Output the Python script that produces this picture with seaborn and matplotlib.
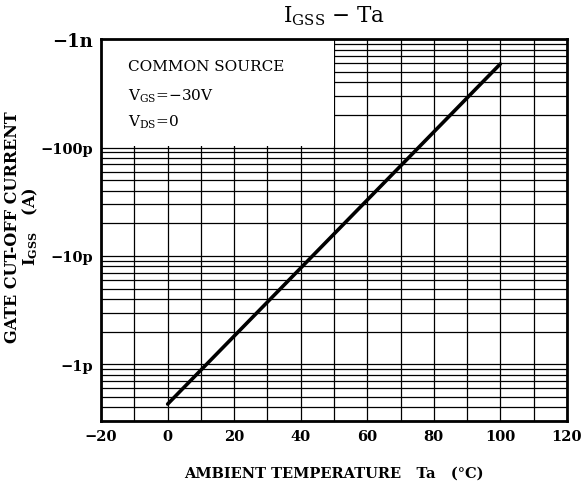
import matplotlib
matplotlib.use("Agg")
import matplotlib.pyplot as plt
from matplotlib.patches import Rectangle
from matplotlib.ticker import FixedLocator, LogLocator, MultipleLocator, NullFormatter
import pandas as pd
import seaborn as sns

# I_GSS magnitude (A) vs ambient temperature (deg C); straight line on log scale
temps = [0, 100]
igss = [0.43e-12, 590e-12]

y_ticks = [1e-12, 1e-11, 1e-10, 1e-9]
y_labels = ["\u22121p", "\u221210p", "\u2212100p", "\u22121n"]
x_ticks = [-20, 0, 20, 40, 60, 80, 100, 120]

MINUS = "\u2212"

sns.set_style("white")
plt.rcParams["font.family"] = ["DejaVu Serif", "DejaVu Sans"]
plt.rcParams["mathtext.fontset"] = "dejavuserif"
for key in ["text.color", "axes.labelcolor", "xtick.color", "ytick.color"]:
    plt.rcParams[key] = "black"

df = pd.DataFrame({"Ta": temps, "IGSS": igss})

fig = plt.figure(figsize=(5.88, 4.89), dpi=100)
ax = fig.add_axes([0.172, 0.137, 0.792, 0.781])

sns.lineplot(data=df, x="Ta", y="IGSS", color="black", linewidth=2.6, ax=ax, zorder=3)

ax.set_yscale("log")
ax.set_xlim(-20, 120)
ax.set_ylim(0.3e-12, 1e-9)

ax.xaxis.set_major_locator(FixedLocator(x_ticks))
ax.xaxis.set_minor_locator(MultipleLocator(10))
ax.yaxis.set_major_locator(FixedLocator(y_ticks))
ax.yaxis.set_minor_locator(LogLocator(base=10, subs=range(2, 10), numticks=20))
ax.yaxis.set_minor_formatter(NullFormatter())
ax.set_yticklabels(y_labels)

ax.set_axisbelow(True)
ax.grid(which="both", color="black", linewidth=0.9)

# white box for the conditions text, covering the grid
ax.add_patch(Rectangle((-20, 1.04e-10), 70, 1e-9 - 1.04e-10,
                       facecolor="white", edgecolor="none", zorder=2))
ax.text(-12, 5.65e-10, "COMMON SOURCE", fontsize=11, va="center", zorder=4)
ax.text(-12, 3.0e-10, r"V$_{\mathregular{GS}}$=" + MINUS + "30V", fontsize=11,
        va="center", zorder=4)
ax.text(-12, 1.75e-10, r"V$_{\mathregular{DS}}$=0", fontsize=11,
        va="center", zorder=4)

for s in ax.spines.values():
    s.set_color("black")
    s.set_linewidth(2)

ax.tick_params(which="both", length=0, pad=6)
for lab in ax.get_xticklabels() + ax.get_yticklabels():
    lab.set_fontweight("bold")
    lab.set_fontsize(10.5)
ax.get_yticklabels()[-1].set_fontsize(13)

ax.set_title(r"I$_{\mathregular{GSS}}$ " + MINUS + " Ta", fontsize=15.5, pad=13)
ax.set_xlabel("AMBIENT TEMPERATURE   Ta   (\u00b0C)", fontsize=10.5,
              fontweight="bold", labelpad=16)
ax.set_ylabel("GATE CUT-OFF CURRENT\n" + r"I$_{\mathregular{GSS}}$   (A)",
              fontsize=11.5, fontweight="bold", linespacing=1.0)
ax.yaxis.set_label_coords(-0.131, 0.51)

fig.savefig("out.png", dpi=100)
